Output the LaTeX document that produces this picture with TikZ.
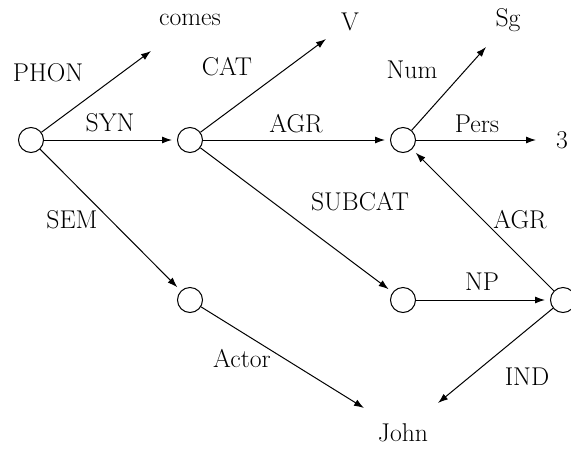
\documentclass[tikz,border=0pt]{standalone}
\usetikzlibrary{arrows.meta}
\begin{document}
\begin{tikzpicture}[x=1pt,y=-1pt,
  every node/.style={font=\fontsize{25.7}{30}\selectfont},
  dot/.style={circle,draw,line width=1pt,minimum size=25pt,inner sep=0pt},
  txt/.style={inner sep=0pt},
  lbl/.style={inner sep=0pt},
  arr/.style={line width=1pt,-{Latex[length=10pt,width=7pt]}},
  into/.style={arr,shorten >=5pt}]
\useasboundingbox (0,0) rectangle (571,448);
% feature nodes
\node[dot] (A) at (31,140) {};
\node[dot] (B) at (190,140) {};
\node[dot] (C) at (403,140) {};
\node[dot] (D) at (190,300) {};
\node[dot] (E) at (403,300) {};
\node[dot] (F) at (563,300) {};
% value texts
\node[txt] (comes) at (190,20) {comes};
\node[txt] (V) at (350,22) {V};
\node[txt] (Sg) at (508,20) {Sg};
\node[txt] (three) at (562,140) {3};
\node[txt] (John) at (403,433) {John};
% arrow ends at value texts
\coordinate (comesIn) at (151,51);
\coordinate (VIn) at (326,39);
\coordinate (SgIn) at (486,47);
\coordinate (threeIn) at (536,140);
\coordinate (JohnInL) at (364,408);
\coordinate (JohnInR) at (438,403);
% connectors
\draw[arr] (A) -- (comesIn);
\draw[into] (A) -- (B);
\draw[into] (A) -- (D);
\draw[arr] (B) -- (VIn);
\draw[into] (B) -- (C);
\draw[into] (B) -- (E);
\draw[arr] (C) -- (SgIn);
\draw[arr] (C) -- (threeIn);
\draw[into] (E) -- (F);
\draw[into] (F) -- (C);
\draw[arr] (F) -- (JohnInR);
\draw[arr] (D) -- (JohnInL);
% labels
\node[lbl] (lPHON) at (48,73) {PHON};
\node[lbl] (lSYN) at (110,123) {SYN};
\node[lbl] (lSEM) at (72,220) {SEM};
\node[lbl] (lCAT) at (227,67) {CAT};
\node[lbl] (lAGR1) at (296,124) {AGR};
\node[lbl] (lSUBCAT) at (360,202) {SUBCAT};
\node[lbl] (lNum) at (412,70) {Num};
\node[lbl] (lPers) at (477,124) {Pers};
\node[lbl] (lAGR2) at (520,220) {AGR};
\node[lbl] (lNP) at (482,282) {NP};
\node[lbl] (lActor) at (242,359) {Actor};
\node[lbl] (lIND) at (527,377) {IND};
\end{tikzpicture}
\end{document}
